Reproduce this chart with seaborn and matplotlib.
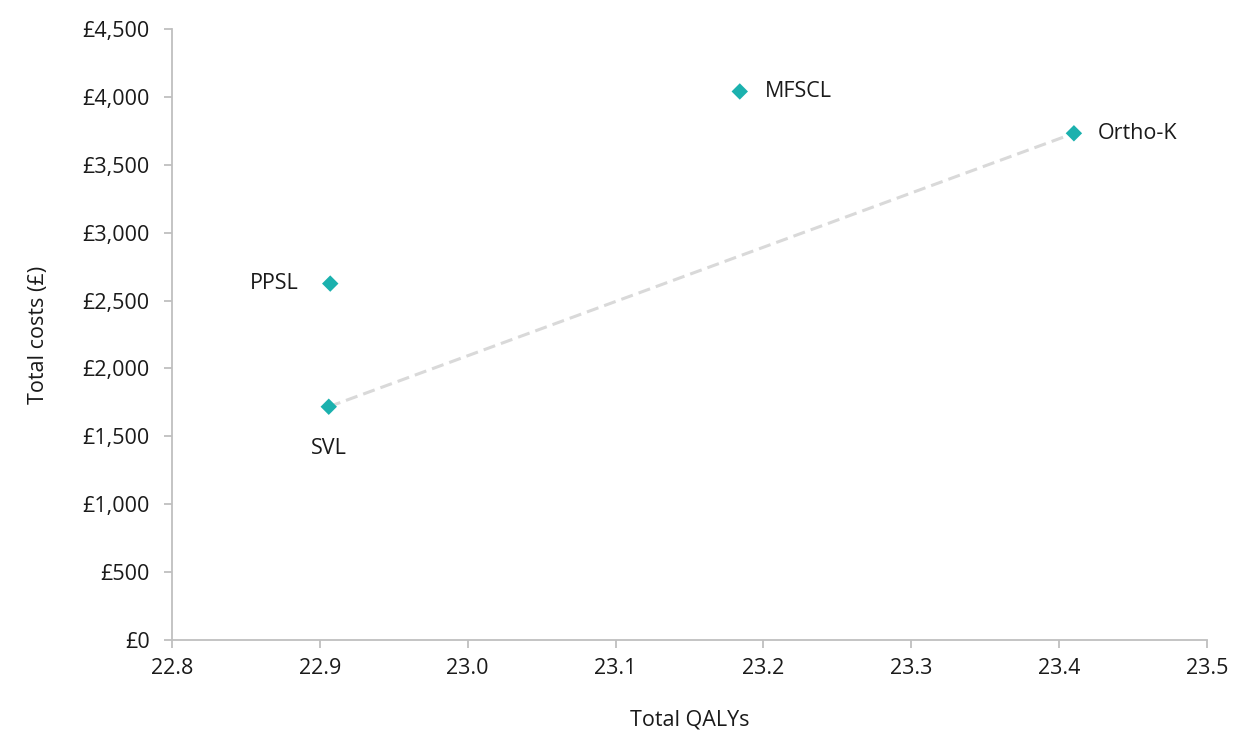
import matplotlib
matplotlib.use("Agg")
import matplotlib.pyplot as plt
import matplotlib.ticker as mticker
import seaborn as sns
import pandas as pd

# Data
strategies = ["SVL", "PPSL", "MFSCL", "Ortho-K"]
total_qalys = [22.906, 22.907, 23.184, 23.410]
total_costs = [1718, 2625, 4040, 3732]

# Efficiency frontier (non-dominated strategies)
frontier = ["SVL", "Ortho-K"]

sns.set_theme(style="white")
plt.rcParams["font.family"] = ["Open Sans", "DejaVu Sans"]

df = pd.DataFrame({"strategy": strategies, "qalys": total_qalys, "costs": total_costs})
front_df = df[df["strategy"].isin(frontier)]

fig = plt.figure(figsize=(12.35, 7.31), dpi=100)
ax = fig.add_axes([0.1393, 0.1245, 0.838, 0.8358])

sns.lineplot(data=front_df, x="qalys", y="costs", ax=ax, color="#d9d9d9",
             linestyle=(0, (4, 2)), linewidth=2.2, sort=False, zorder=1)
sns.scatterplot(data=df, x="qalys", y="costs", ax=ax, marker="D", s=70,
                color="#1bb1ae", edgecolor="none", zorder=3)

fs = 15.5
label_pos = {
    "SVL": (0, -30, "center"),
    "PPSL": (-23, 0, "right"),
    "MFSCL": (18, 0, "left"),
    "Ortho-K": (17, 0, "left"),
}
for _, r in df.iterrows():
    dx, dy, ha = label_pos[r["strategy"]]
    ax.annotate(r["strategy"], (r["qalys"], r["costs"]), xytext=(dx, dy),
                textcoords="offset points", ha=ha, va="center",
                fontsize=fs, color="#1a1a1a")

ax.set_xlim(22.8, 23.5)
ax.set_ylim(0, 4500)
ax.xaxis.set_major_locator(mticker.MultipleLocator(0.1))
ax.yaxis.set_major_locator(mticker.MultipleLocator(500))
ax.xaxis.set_major_formatter(mticker.FormatStrFormatter("%.1f"))
ax.yaxis.set_major_formatter(mticker.FuncFormatter(lambda v, p: f"£{v:,.0f}"))

for side in ["top", "right"]:
    ax.spines[side].set_visible(False)
for side in ["left", "bottom"]:
    ax.spines[side].set_color("#bfbfbf")
    ax.spines[side].set_linewidth(1.3)

ax.tick_params(axis="both", which="major", direction="out", length=6, width=1.3,
               color="#bfbfbf", labelsize=fs, labelcolor="#1a1a1a", pad=7,
               bottom=True, left=True)
ax.tick_params(axis="y", pad=10)

ax.set_xlabel("Total QALYs", fontsize=fs, color="#1a1a1a", labelpad=22)
ax.set_ylabel("Total costs (£)", fontsize=fs, color="#1a1a1a", labelpad=24)

fig.savefig("out.png", dpi=100)
